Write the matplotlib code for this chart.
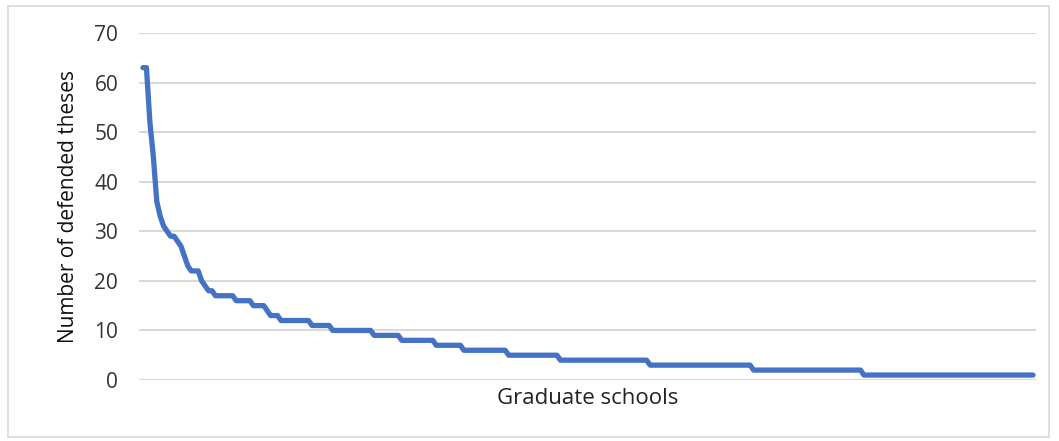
import matplotlib
matplotlib.use("Agg")
import matplotlib.pyplot as plt
from matplotlib.patches import Rectangle

# Sorted number of defended theses per graduate school
head_values = [63, 63, 52, 45, 36, 33, 31, 30, 29, 29, 28, 27, 25, 23, 22, 22, 22,
               20, 19, 18, 18]
# Plateau levels and how many schools sit on each level
plateau_levels = [17, 16, 15, 14, 13, 12, 11, 10, 9, 8, 7, 6, 5, 4, 3, 2, 1]
plateau_counts = [6, 5, 4, 1, 3, 9, 6, 12, 8, 10, 8, 13, 15, 26, 30, 32, 50]

theses = list(head_values)
for lvl, cnt in zip(plateau_levels, plateau_counts):
    theses += [lvl] * cnt
schools = list(range(len(theses)))

y_ticks = [0, 10, 20, 30, 40, 50, 60, 70]
y_label = "Number of defended theses"
x_label = "Graduate schools"

W, H = 1059, 441
fig = plt.figure(figsize=(W / 100, H / 100), dpi=100)
plt.rcParams['font.family'] = ['Open Sans', 'DejaVu Sans']

ax = fig.add_axes([139 / W, 61 / H, (1036 - 139) / W, (380 - 33) / H])
ax.plot(schools, theses, color="#4472C4", linewidth=3.8,
        solid_capstyle="round", solid_joinstyle="round", zorder=3)

n = len(theses)
px_per_unit = (1033 - 143) / (n - 1)
ax.set_xlim(-(143 - 139) / px_per_unit, (n - 1) + (1036 - 1033) / px_per_unit)
ax.set_ylim(0, 70)
ax.set_yticks(y_ticks)
ax.set_xticks([])
ax.yaxis.grid(True, color="#d9d9d9", linewidth=1.5, zorder=0)
ax.set_axisbelow(True)
for s in ax.spines.values():
    s.set_visible(False)
ax.tick_params(axis="y", length=0, pad=15, labelsize=15, labelcolor="#333333")
ax.set_ylabel(y_label, fontsize=15, color="#111111", labelpad=11)
ax.set_xlabel(x_label, fontsize=16, color="#222222", labelpad=6)

fig.patches.append(Rectangle((8 / W, 4 / H), (1049 - 8) / W, (437 - 6) / H,
                             transform=fig.transFigure, fill=False,
                             edgecolor="#d9d9d9", linewidth=1.2))

fig.savefig("out.png", dpi=100)
